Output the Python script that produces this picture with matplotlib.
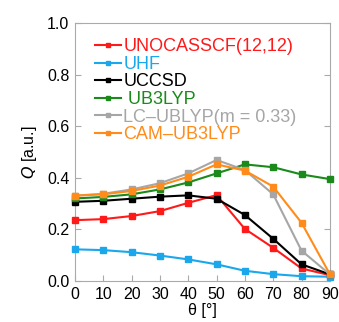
import matplotlib
matplotlib.use("Agg")
import matplotlib.pyplot as plt

plt.rcParams["font.family"] = ["Liberation Sans", "DejaVu Sans"]

theta = [0, 10, 20, 30, 40, 50, 60, 70, 80, 90]

q_unocasscf = [0.236, 0.240, 0.252, 0.271, 0.303, 0.333, 0.202, 0.129, 0.049, 0.023]
q_uhf = [0.123, 0.120, 0.112, 0.099, 0.084, 0.065, 0.040, 0.027, 0.019, 0.017]
q_uccsd = [0.307, 0.311, 0.319, 0.327, 0.332, 0.319, 0.256, 0.164, 0.065, 0.026]
q_ub3lyp = [0.320, 0.326, 0.336, 0.355, 0.382, 0.417, 0.452, 0.441, 0.413, 0.395]
q_lcublyp = [0.331, 0.338, 0.355, 0.379, 0.417, 0.469, 0.430, 0.336, 0.118, 0.026]
q_camub3lyp = [0.331, 0.336, 0.349, 0.370, 0.404, 0.452, 0.428, 0.366, 0.226, 0.027]

series = [
    ("UNOCASSCF(12,12)", q_unocasscf, "#ff1a1a"),
    ("UHF", q_uhf, "#1aa7ec"),
    ("UCCSD", q_uccsd, "#000000"),
    (" UB3LYP", q_ub3lyp, "#1a8a1a"),
    ("LC\u2013UBLYP(m = 0.33)", q_lcublyp, "#a6a6a6"),
    ("CAM\u2013UB3LYP", q_camub3lyp, "#ff8c1a"),
]

fig = plt.figure(figsize=(3.39, 3.22), dpi=100)
ax = fig.add_axes([0.221, 0.127, 0.752, 0.802])

for label, vals, color in series:
    ax.plot(theta, vals, color=color, marker="s", markersize=4,
            linewidth=1.5, label=label, clip_on=False, zorder=3)

ax.set_xlim(0, 90)
ax.set_ylim(0, 1.0)
ax.set_xticks(theta)
ax.set_yticks([0.0, 0.2, 0.4, 0.6, 0.8, 1.0])
ax.set_yticklabels(["0.0", "0.2", "0.4", "0.6", "0.8", "1.0"])
ax.tick_params(direction="in", length=4, color="#aaaaaa", labelsize=11.5,
               right=True, top=False, pad=4)
for s in ax.spines.values():
    s.set_color("#aaaaaa")

ax.set_xlabel("\u03b8 [\u00b0]", fontsize=11.5, labelpad=1)
ax.set_ylabel("$\\mathit{Q}$ [a.u.]", fontsize=11.5, labelpad=6)

leg = ax.legend(loc="upper left", bbox_to_anchor=(0.078, 0.94), frameon=False,
                fontsize=13, handlelength=1.45, handletextpad=0.12,
                labelspacing=0.03, borderaxespad=0.0, borderpad=0.0,
                markerscale=0.6)
for text, (_, _, color) in zip(leg.get_texts(), series):
    text.set_color(color)

fig.savefig("out.png", dpi=100)
